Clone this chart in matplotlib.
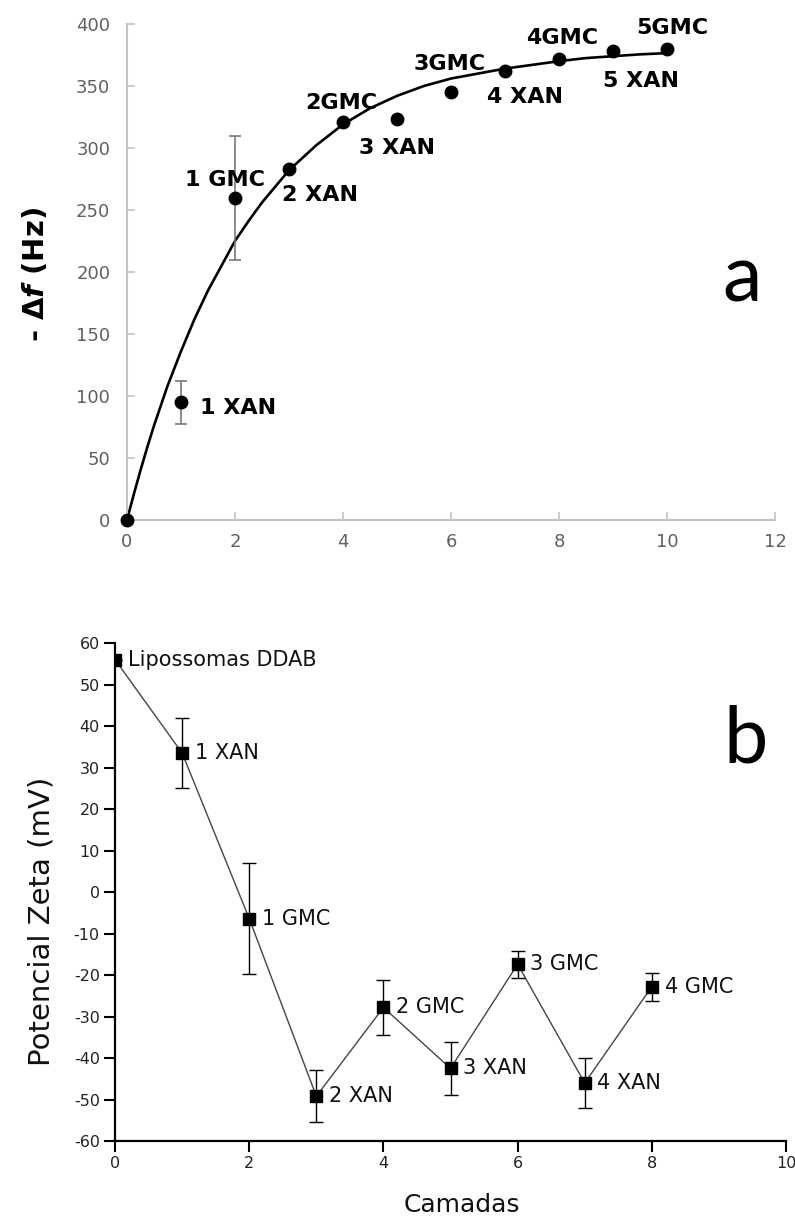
import numpy as np
import matplotlib
matplotlib.use("Agg")
import matplotlib.pyplot as plt

plt.rcParams['font.family'] = ['DejaVu Sans']
plt.rcParams['axes.unicode_minus'] = False
plt.rcParams['mathtext.fontset'] = 'custom'
plt.rcParams['mathtext.it'] = 'DejaVu Sans:italic:bold'
plt.rcParams['mathtext.rm'] = 'DejaVu Sans:bold'

# ---- panel a: frequency shift vs layers ----
layers_a = [0, 1, 2, 3, 4, 5, 6, 7, 8, 9, 10]
df_a = [0, 95, 260, 283, 321, 323, 345, 362, 372, 378, 380]
df_err = [0, 17.5, 50, 0, 0, 0, 0, 0, 0, 0, 0]
labels_a = ['', '1 XAN', '1 GMC', '2 XAN', '2GMC', '3 XAN', '3GMC', '4 XAN', '4GMC', '5 XAN', '5GMC']
# label offsets (data units) relative to each point
lab_dx_a = [0, 0.35, -0.93, -0.13, -0.69, -0.70, -0.70, -0.33, -0.61, -0.19, -0.56]
lab_dy_a = [0, -5, 14, -21, 15, -23, 23, -21, 17, -24, 17]

# fitted curve
curve_x = [0, 0.125, 0.25, 0.375, 0.5, 0.75, 1, 1.25, 1.5, 1.75, 2, 2.25, 2.5, 3,
           3.5, 4, 4.5, 5, 5.5, 6, 6.5, 7, 7.5, 8, 8.5, 9, 9.5, 10]
curve_y = [0, 20.5, 40, 58.5, 76, 108, 136, 162, 185, 205, 225, 241, 256, 282,
           302, 319, 332, 342, 350, 356, 360, 364, 367, 370, 372.5, 374, 375.5, 376.5]

# ---- panel b: zeta potential vs layers ----
layers_b = [0, 1, 2, 3, 4, 5, 6, 7, 8]
zeta = [56, 33.5, -6.4, -49.2, -27.8, -42.5, -17.4, -46, -22.8]
zeta_err = [0, 8.5, 13.3, 6.3, 6.6, 6.4, 3.2, 6, 3.4]
labels_b = ['Lipossomas DDAB', '1 XAN', '1 GMC', '2 XAN', '2 GMC', '3 XAN', '3 GMC', '4 XAN', '4 GMC']

fig = plt.figure(figsize=(7.95, 12.23), dpi=100)

# ================= panel a =================
ax1 = fig.add_axes([0.1597, 0.5748, 0.8151, 0.4056])
grey = '#c4c4c4'
ax1.plot(curve_x, curve_y, color='black', lw=1.9, zorder=2)
ax1.errorbar(layers_a, df_a, yerr=df_err, fmt='o', color='black', ms=9,
             ecolor='#777777', elinewidth=1.2, capsize=4, capthick=1.2,
             clip_on=False, zorder=3)
for x, y, t, dx, dy in zip(layers_a, df_a, labels_a, lab_dx_a, lab_dy_a):
    if t:
        ax1.text(x + dx, y + dy, t, ha='left', va='center', fontsize=16,
                 fontweight='bold', color='black')
ax1.text(11.39, 176, 'a', ha='center', va='baseline', fontsize=57,
         family='Lato', color='black')

ax1.set_xlim(0, 12)
ax1.set_ylim(0, 400)
ax1.set_xticks(range(0, 13, 2))
ax1.set_yticks(range(0, 401, 50))
for s in ['top', 'right']:
    ax1.spines[s].set_visible(False)
for s in ['left', 'bottom']:
    ax1.spines[s].set_color(grey)
    ax1.spines[s].set_linewidth(1.5)
ax1.tick_params(direction='in', length=6, width=1.2, color=grey,
                labelsize=13, labelcolor='#606060')
ax1.tick_params(axis='y', pad=12)
ax1.tick_params(axis='x', pad=9)
ax1.set_ylabel('- \u0394$\\mathit{f}$ (Hz)', fontsize=21, fontweight='bold')
ax1.yaxis.set_label_coords(-0.119, 0.496)

# ================= panel b =================
ax2 = fig.add_axes([0.1447, 0.0670, 0.844, 0.4072])
ax2.plot(layers_b, zeta, color='#444444', lw=1.0, zorder=2)
ax2.errorbar(layers_b, zeta, yerr=zeta_err, fmt='s', color='black', ms=8,
             ecolor='black', elinewidth=1.0, capsize=5, capthick=1.0, zorder=3)
for x, y, t in zip(layers_b, zeta, labels_b):
    ax2.text(x + 0.19, y, t, ha='left', va='center', fontsize=15, color='#111111')
ax2.text(9.40, 31.25, 'b', ha='center', va='baseline', fontsize=57,
         family='Lato', color='black')

ax2.set_xlim(0, 10)
ax2.set_ylim(-60, 60)
ax2.set_xticks(range(0, 11, 2))
ax2.set_yticks(range(-60, 61, 10))
for s in ['top', 'right']:
    ax2.spines[s].set_visible(False)
for s in ['left', 'bottom']:
    ax2.spines[s].set_linewidth(1.6)
ax2.tick_params(direction='out', length=8, width=1.5, color='black',
                labelsize=11.5, labelcolor='#222222', pad=3)
ax2.set_ylabel('Potencial Zeta (mV)', fontsize=21, color='#111111')
ax2.yaxis.set_label_coords(-0.088, 0.442)
ax2.set_xlabel('Camadas', fontsize=18, color='#111111')
ax2.xaxis.set_label_coords(0.517, -0.104)

fig.savefig('out.png', dpi=100)
